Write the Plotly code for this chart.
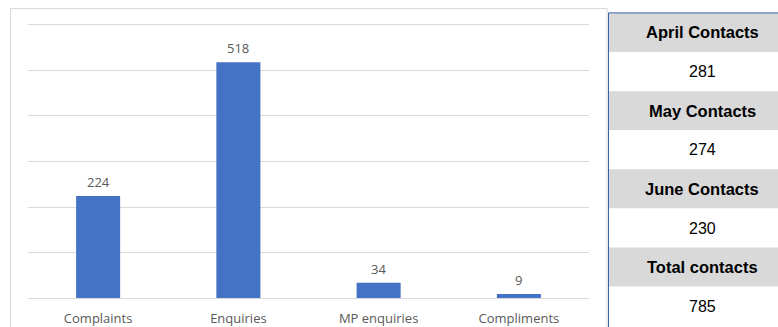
import plotly.graph_objects as go

# ---- data ----
categories = ["Complaints", "Enquiries", "MP enquiries", "Compliments"]
counts = [224, 518, 34, 9]
table_labels = ["April Contacts", "May Contacts", "June Contacts", "Total contacts"]
table_values = [281, 274, 230, 785]
y_ticks = [0, 100, 200, 300, 400, 500, 600]

W, H = 778, 327
BAR = "#4472c4"
GRID = "#d9d9d9"
TXT = "#595959"

def px_x(p):
    return p / W

def px_y(p):
    return 1 - p / H

fig = go.Figure()
fig.add_trace(go.Bar(
    x=categories, y=counts, marker=dict(color=BAR, line=dict(width=0)),
    width=0.314, hoverinfo="skip",
))

annotations = []
for c, v in zip(categories, counts):
    annotations.append(dict(
        x=c, y=v, xref="x", yref="y", text=str(v), showarrow=False,
        yanchor="bottom", yshift=3,
        font=dict(family="Open Sans", size=13, color=TXT),
    ))

shapes = []
# chart frame
shapes.append(dict(type="rect", xref="paper", yref="paper",
                   x0=px_x(10.5), x1=px_x(607), y0=px_y(340), y1=px_y(8.5),
                   line=dict(color=GRID, width=1), fillcolor="rgba(0,0,0,0)", layer="below"))

# table
row_h = 39.35
top = 13
n_rows = 2 * len(table_labels)
for i in range(n_rows):
    y0 = top + i * row_h
    y1 = y0 + row_h
    fill = "#d9d9d9" if i % 2 == 0 else "#ffffff"
    shapes.append(dict(type="rect", xref="paper", yref="paper",
                       x0=px_x(608.5), x1=1.05, y0=px_y(y1), y1=px_y(y0),
                       line=dict(width=0), fillcolor=fill, layer="below"))
# table border (top + left)
BLUE = "#3a62ad"
shapes.append(dict(type="line", xref="paper", yref="paper",
                   x0=px_x(608.5), x1=1.05, y0=px_y(13), y1=px_y(13),
                   line=dict(color=BLUE, width=1)))
shapes.append(dict(type="line", xref="paper", yref="paper",
                   x0=px_x(608.5), x1=px_x(608.5), y0=px_y(340), y1=px_y(13),
                   line=dict(color=BLUE, width=1)))

cx = px_x(702)
for k, (lab, val) in enumerate(zip(table_labels, table_values)):
    yh = top + (2 * k + 0.5) * row_h
    yv = top + (2 * k + 1.5) * row_h
    annotations.append(dict(x=cx, y=px_y(yh), xref="paper", yref="paper",
                            text="<b>%s</b>" % lab, showarrow=False,
                            xanchor="center", yanchor="middle",
                            font=dict(family="Liberation Sans", size=16.5, color="#000000")))
    annotations.append(dict(x=cx, y=px_y(yv), xref="paper", yref="paper",
                            text=str(val), showarrow=False,
                            xanchor="center", yanchor="middle",
                            font=dict(family="Liberation Sans", size=16, color="#000000")))

ppu = (300 - 25) / 600.0
ymax = 610
top_px = 300 - ymax * ppu

fig.update_layout(
    width=W, height=H,
    margin=dict(l=0, r=0, t=0, b=0),
    paper_bgcolor="white", plot_bgcolor="white",
    showlegend=False,
    shapes=shapes, annotations=annotations,
    xaxis=dict(domain=[px_x(28), px_x(589)], showgrid=False, zeroline=False,
               showline=True, linecolor=GRID, linewidth=1,
               ticks="", ticklabelstandoff=8,
               tickfont=dict(family="Open Sans", size=13, color=TXT)),
    yaxis=dict(domain=[px_y(300), px_y(top_px)], range=[0, ymax],
               tickvals=y_ticks, showticklabels=False, showgrid=True,
               gridcolor=GRID, gridwidth=1, zeroline=False, showline=False),
)

fig.write_html("out.html")
